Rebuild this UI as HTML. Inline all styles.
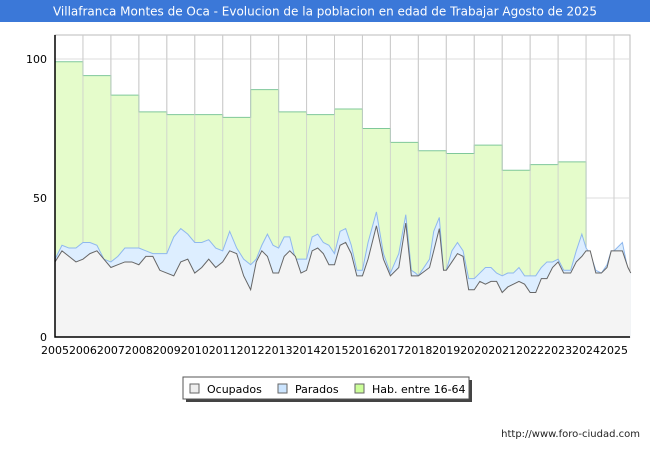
<!DOCTYPE html>
<html><head><meta charset="utf-8"><style>
body{margin:0;width:650px;height:450px;background:#fff;font-family:"DejaVu Sans","Liberation Sans",sans-serif;overflow:hidden}
</style></head><body>
<svg id="c" width="650" height="450" xmlns="http://www.w3.org/2000/svg">
<rect x="0" y="0" width="650" height="450" fill="#fff"/>
<rect x="0" y="0" width="650" height="22" fill="#3b78d8"/>
<text x="325" y="15.5" text-anchor="middle" font-size="12" fill="#fff">Villafranca Montes de Oca - Evolucion de la poblacion en edad de Trabajar Agosto de 2025</text>
<rect x="55" y="35" width="575" height="302" fill="#fff" stroke="#bbb" stroke-width="1"/>
<g id="grid"></g>
<g id="marks"></g>
<g id="axes"></g>
<g>
<rect x="186" y="380" width="286" height="22" fill="#444"/>
<rect x="183" y="377" width="286" height="22" fill="#fff" stroke="#555"/>
<rect x="190" y="384" width="9" height="9" fill="#eee" stroke="#666"/>
<text x="207" y="393" font-size="11">Ocupados</text>
<rect x="278" y="384" width="9" height="9" fill="#cce5ff" stroke="#666"/>
<text x="295" y="393" font-size="11">Parados</text>
<rect x="355" y="384" width="9" height="9" fill="#ccff99" stroke="#666"/>
<text x="372" y="393" font-size="11">Hab. entre 16-64</text>
</g>
<text x="640" y="437" text-anchor="end" font-size="10" fill="#222">http://www.foro-ciudad.com</text>
</svg>
<script>
const years=[2005,2006,2007,2008,2009,2010,2011,2012,2013,2014,2015,2016,2017,2018,2019,2020,2021,2022,2023];
const habValues=[99,94,87,81,80,80,79,89,81,80,82,75,70,67,66,69,60,62,63];
const yTicks=[0,50,100];
const xTicks=[2005,2006,2007,2008,2009,2010,2011,2012,2013,2014,2015,2016,2017,2018,2019,2020,2021,2022,2023,2024,2025];
const times=[2005,2005.25,2005.5,2005.75,2006,2006.25,2006.5,2006.75,2007,2007.25,2007.5,2007.75,2008,2008.25,2008.5,2008.75,2009,2009.25,2009.5,2009.75,2010,2010.25,2010.5,2010.75,2011,2011.25,2011.5,2011.75,2012,2012.2,2012.4,2012.6,2012.8,2013,2013.2,2013.4,2013.6,2013.8,2014,2014.2,2014.4,2014.6,2014.8,2015,2015.2,2015.4,2015.6,2015.8,2016,2016.2,2016.5,2016.75,2017,2017.3,2017.55,2017.75,2017.9,2018,2018.4,2018.55,2018.75,2018.9,2019,2019.2,2019.4,2019.6,2019.8,2020,2020.2,2020.4,2020.6,2020.8,2021,2021.2,2021.4,2021.6,2021.8,2022,2022.2,2022.4,2022.6,2022.8,2023,2023.2,2023.45,2023.65,2023.85,2024,2024.15,2024.35,2024.55,2024.75,2024.9,2025,2025.3,2025.5,2025.6];
const ocupados=[27,31,29,27,28,30,31,28,25,26,27,27,26,29,29,24,23,22,27,28,23,25,28,25,27,31,30,22,17,27,31,29,23,23,29,31,29,23,24,31,32,30,26,26,33,34,30,22,22,28,40,28,22,25,41,22,22,22,25,31,39,24,24,27,30,29,17,17,20,19,20,20,16,18,19,20,19,16,16,21,21,25,27,23,23,27,29,31,31,23,23,25,31,31,31,25,23,32,31,31];
const parados=[28,33,32,32,34,34,33,28,27,29,32,32,32,31,30,30,30,36,39,37,34,34,35,32,31,38,32,28,26,28,33,37,33,32,36,36,28,28,28,36,37,34,33,30,38,39,33,24,24,34,45,30,23,30,44,24,23,22,28,38,43,24,24,31,34,31,21,21,23,25,25,23,22,23,23,25,22,22,22,25,27,27,28,24,24,31,37,32,30,24,23,26,31,31,34,24,23,32,31,31];
const X=t=>55+(t-2005)*27.95;
const Y=v=>337-v*2.78;
const NS="http://www.w3.org/2000/svg";
function mk(tag,attrs,parent){const e=document.createElementNS(NS,tag);for(const k in attrs)e.setAttribute(k,attrs[k]);parent.appendChild(e);return e;}
const grid=document.getElementById('grid'),marks=document.getElementById('marks'),axes=document.getElementById('axes');
xTicks.forEach(t=>{if(t>2005){const l=mk('line',{x1:X(t),x2:X(t),y1:35,y2:337,stroke:'#ccc'},grid);

}
const tx=mk('text',{x:X(t),y:354,'text-anchor':'middle','font-size':11},axes);tx.textContent=t;

});
yTicks.forEach(v=>{if(v>0){const l=mk('line',{x1:55,x2:630,y1:Y(v),y2:Y(v),stroke:'#ddd'},grid);

}
const tx=mk('text',{x:47,y:Y(v)+4,'text-anchor':'end','font-size':11},axes);tx.textContent=v;

});
let hp='M'+X(years[0])+','+Y(0);let hl='';
years.forEach((y,i)=>{hp+=' L'+X(y)+','+Y(habValues[i])+' L'+X(y+1)+','+Y(habValues[i]);hl+=(i?' L':'M')+X(y)+','+Y(habValues[i])+' L'+X(y+1)+','+Y(habValues[i]);});
hp+=' L'+X(years[years.length-1]+1)+','+Y(0)+'Z';
hl+=' L'+X(years[years.length-1]+1)+','+Y(0);
const ha=mk('path',{d:hp,fill:'#e5fccb'},marks);


const hln=mk('path',{d:hl,fill:'none',stroke:'#7fc89a','stroke-width':1},marks);


xTicks.forEach(t=>{if(t>2005){const l=mk('line',{x1:X(t),x2:X(t),y1:35,y2:337,stroke:'#ccc','stroke-opacity':0.8},marks);

}});
function area(vals,fill,stroke,name){let d='M'+X(times[0])+','+Y(0);let l='';
times.forEach((t,i)=>{d+=' L'+X(t)+','+Y(vals[i]);l+=(i?' L':'M')+X(t)+','+Y(vals[i]);});
d+=' L'+X(times[times.length-1])+','+Y(0)+'Z';
const a=mk('path',{d:d,fill:fill},marks);


const ln=mk('path',{d:l,fill:'none',stroke:stroke,'stroke-width':1},marks);

}
area(parados,'#ddeeff','#8fb8ee','parados');
area(ocupados,'#f4f4f4','#666','ocupados');
const ax=mk('path',{d:'M55,35 L55,337 L630,337',fill:'none',stroke:'#000','stroke-width':1.5},axes);


</script>
</body></html>
